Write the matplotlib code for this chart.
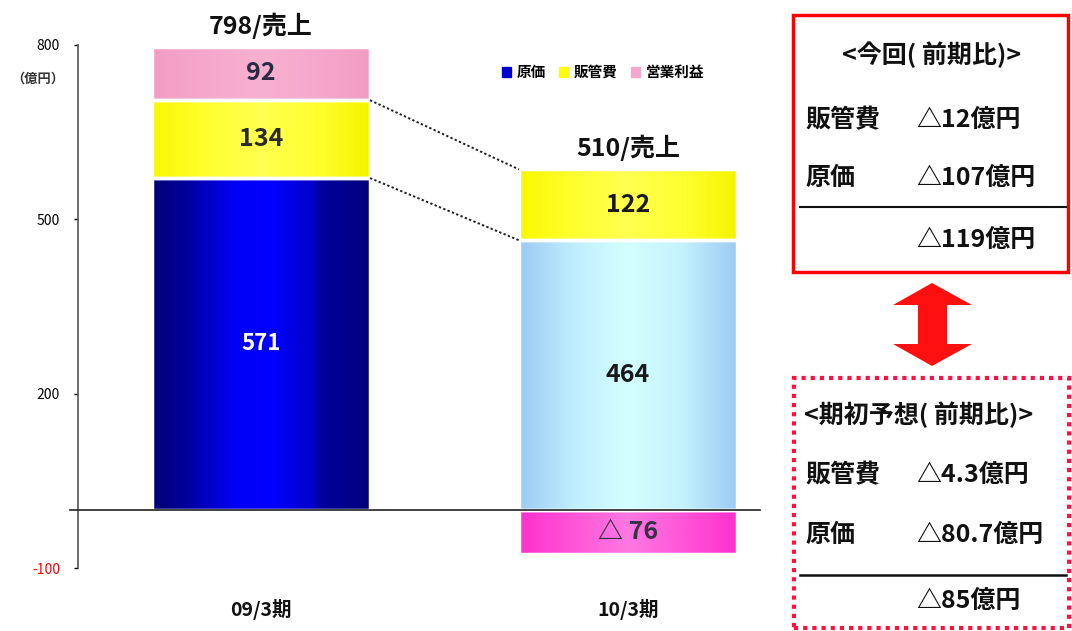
import matplotlib.pyplot as plt
import numpy as np
from matplotlib.colors import LinearSegmentedColormap
from matplotlib.patches import Rectangle, Polygon

plt.rcParams['font.family'] = ['Noto Sans CJK JP', 'DejaVu Sans']

periods = ['09/3期', '10/3期']
cost = [571, 464]          # 原価
sga = [134, 122]           # 販管費
profit = [92, -76]         # 営業利益
sales = [798, 510]
profit_labels = ['92', '△ 76']

yticks = [800, 500, 200, -100]

box1_title = '<今回( 前期比)>'
box1_rows = [('販管費', '△12億円'), ('原価', '△107億円')]
box1_total = '△119億円'
box2_title = '<期初予想( 前期比)>'
box2_rows = [('販管費', '△4.3億円'), ('原価', '△80.7億円')]
box2_total = '△85億円'

W, H = 1072, 631
fig = plt.figure(figsize=(W / 100, H / 100), dpi=100)
ax = fig.add_axes([78 / W, 63 / H, (760 - 78) / W, (586 - 63) / H])

x = np.arange(len(periods))
width = 0.594
ax.set_xlim(-0.499, 1.36)
ax.set_ylim(-100, 800)


def grad_cmap(name, cols):
    return LinearSegmentedColormap.from_list(name, cols)


cm_blue = grad_cmap('b', [(0, '#000078'), (0.12, '#000090'), (0.38, '#0000f6'),
                          (0.55, '#0000ff'), (0.74, '#0000c8'), (0.78, '#00009c'),
                          (1, '#00007c')])
cm_light = grad_cmap('lb', ['#9ccaf4', '#bfeefd', '#d4ffff', '#c4f2fc', '#9ccaf4'])
cm_yellow = grad_cmap('y', ['#f8f800', '#ffff30', '#ffff50', '#ffff30', '#f4f400'])
cm_pink = grad_cmap('p', ['#f29cc4', '#f6a8cc', '#f8b0d0', '#f6a8cc', '#f29cc4'])
cm_mag = grad_cmap('m', ['#ff30cc', '#ff55d8', '#ff78e2', '#ff55d8', '#ff30cc'])


def shaded_bar(xc, bottom, height, cmap):
    # horizontal gradient fill, clipped to the bar rectangle
    bar = ax.bar(xc, height, width, bottom=bottom, color='none',
                 edgecolor='white', linewidth=2.5, zorder=3)[0]
    y0, y1 = sorted([bottom, bottom + height])
    img = ax.imshow(np.linspace(0, 1, 256)[None, :], cmap=cmap, aspect='auto',
                    extent=[xc - width / 2, xc + width / 2, y0, y1], zorder=2)
    img.set_clip_path(bar)
    return bar


shaded_bar(x[0], 0, cost[0], cm_blue)
shaded_bar(x[0], cost[0], sga[0], cm_yellow)
shaded_bar(x[0], cost[0] + sga[0], profit[0], cm_pink)
shaded_bar(x[1], 0, cost[1], cm_light)
shaded_bar(x[1], cost[1], sga[1], cm_yellow)
shaded_bar(x[1], 0, profit[1], cm_mag)

# value labels inside segments
lab_kw = dict(ha='center', va='center', fontsize=18, fontweight='bold', zorder=5)
ax.text(x[0], cost[0] / 2, str(cost[0]), color='white',
        **{**lab_kw, 'fontsize': 16})
ax.text(x[0], cost[0] + sga[0] / 2, str(sga[0]), color='#2a2a2a', **lab_kw)
ax.text(x[0], cost[0] + sga[0] + profit[0] / 2, profit_labels[0], color='#2a2a40', **lab_kw)
ax.text(x[1], cost[1] / 2, str(cost[1]), color='#1a1a1a', **lab_kw)
ax.text(x[1], cost[1] + sga[1] / 2, str(sga[1]), color='#1a1a1a', **lab_kw)
ax.text(x[1], profit[1] / 2, profit_labels[1], color='#333344', **lab_kw)

# sales totals above bars
tops = [cost[0] + sga[0] + profit[0], cost[1] + sga[1]]
for xi, t, s in zip(x, tops, sales):
    ax.text(xi, t + 14, f'{s}/売上', ha='center', va='bottom', fontsize=18,
            fontweight='bold', color='#111111')

# dotted connectors between the two bars
ax.plot([x[0] + width / 2, x[1] - width / 2],
        [cost[0] + sga[0], cost[1] + sga[1]], ls=(0, (1.2, 1.2)), color='#222222', lw=1.4, zorder=4)
ax.plot([x[0] + width / 2, x[1] - width / 2],
        [cost[0], cost[1]], ls=(0, (1.2, 1.2)), color='#222222', lw=1.4, zorder=4)

# zero line
ax.plot([-0.52, 1.36], [0, 0], color='#222222', lw=1.2, clip_on=False, zorder=4)

for s in ['top', 'right', 'bottom']:
    ax.spines[s].set_visible(False)
ax.spines['left'].set_color('#555555')
ax.spines['left'].set_linewidth(1.2)
ax.set_yticks(yticks)
ax.set_yticklabels([str(v) for v in yticks], fontsize=10)
ax.get_yticklabels()[-1].set_color('red')
ax.tick_params(axis='y', length=3, pad=10, width=1)
ax.set_xticks([])
ax.text(-0.61, 742, '（億円）', ha='center', va='center', fontsize=9.5,
        fontweight='bold', color='#333333', clip_on=False)

for xi, p in zip(x, periods):
    ax.text(xi, -172, p, ha='center', va='center', fontsize=14,
            fontweight='bold', color='#111111', clip_on=False)

# legend
handles = [Rectangle((0, 0), 1, 1, color=c) for c in ['#0000cc', '#ffff00', '#f6a8cc']]
ax.legend(handles, ['原価', '販管費', '営業利益'], loc='center', bbox_to_anchor=(0.77, 0.948),
          ncol=3, frameon=False, handlelength=0.6, handleheight=0.6, handletextpad=0.4,
          columnspacing=0.9, prop={'size': 10.5, 'weight': 'bold'})


def fx(px):
    return px / W


def fy(py):
    return 1 - py / H


# right side comparison boxes
fig.patches.append(Rectangle((fx(793), fy(272)), fx(1068) - fx(793), fy(15) - fy(272),
                             transform=fig.transFigure, fill=False, edgecolor='#ff0000', lw=2.5))
fig.patches.append(Rectangle((fx(794), fy(628)), fx(1069) - fx(794), fy(378) - fy(628),
                             transform=fig.transFigure, fill=False, edgecolor='#ff1040',
                             lw=3, ls=(0, (1, 1.2))))

txt_kw = dict(fontsize=18, fontweight='bold', color='#111111', va='center')
fig.text(fx(932), fy(55), box1_title, ha='center', **txt_kw)
for (k, v), py in zip(box1_rows, [120, 178]):
    fig.text(fx(806), fy(py), k, ha='left', **txt_kw)
    fig.text(fx(916), fy(py), v, ha='left', **txt_kw)
fig.add_artist(plt.Line2D([fx(800), fx(1066)], [fy(207), fy(207)], color='#111111', lw=1.5))
fig.text(fx(916), fy(240), box1_total, ha='left', **txt_kw)

fig.text(fx(804), fy(415), box2_title, ha='left', **txt_kw)
for (k, v), py in zip(box2_rows, [475, 535]):
    fig.text(fx(806), fy(py), k, ha='left', **txt_kw)
    fig.text(fx(916), fy(py), v, ha='left', **txt_kw)
fig.add_artist(plt.Line2D([fx(800), fx(1066)], [fy(575), fy(575)], color='#111111', lw=1.8))
fig.text(fx(916), fy(601), box2_total, ha='left', **txt_kw)

# double-headed arrow between the boxes
arrow_px = [(932, 283), (972, 305), (947, 305), (947, 344), (972, 344), (932, 366),
            (893, 344), (918, 344), (918, 305), (893, 305)]
fig.patches.append(Polygon([(fx(a), fy(b)) for a, b in arrow_px], closed=True,
                           transform=fig.transFigure, facecolor='#ff1010', edgecolor='none'))

fig.savefig('out.png', dpi=100)
